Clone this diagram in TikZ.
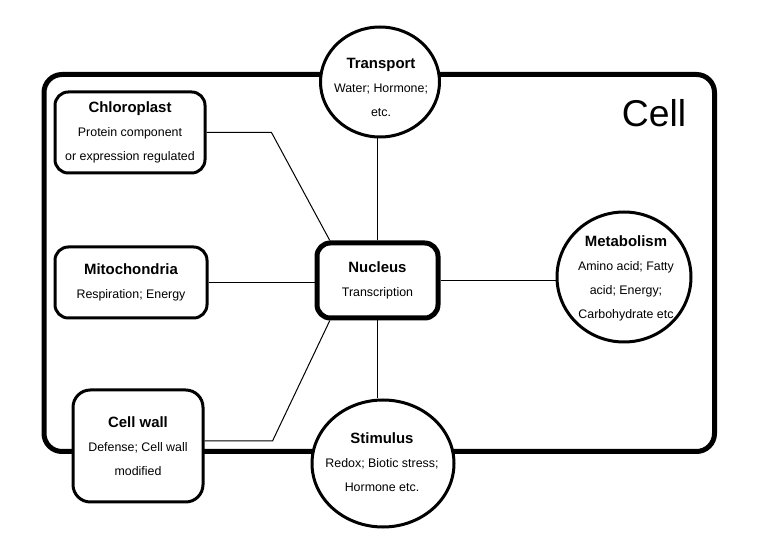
\documentclass[tikz,border=0pt]{standalone}
\usepackage{fontspec}
\setmainfont{Liberation Sans}
\usetikzlibrary{shapes.geometric}
\newcommand{\ttl}[1]{{\fontsize{11.2}{18}\selectfont\bfseries #1}}
\def\px{0.75pt}
\begin{document}
\begin{tikzpicture}[x=0.75pt,y=-0.75pt,
		organelle/.style={draw,fill=white,line width=2.25pt,rounded corners=10pt,align=center,font=\fontsize{9.3}{18}\selectfont},
		process/.style={draw,fill=white,ellipse,line width=2.25pt,inner sep=0pt},
		txt/.style={align=center,font=\fontsize{9.3}{18}\selectfont},
		link/.style={line width=0.75pt}]
		\useasboundingbox (0,0) rectangle (772,552);
		% cell boundary
		\draw[line width=3.75pt,rounded corners=13.5pt] (44,74.5) rectangle (714.5,451.5);
		\node[font=\fontsize{28}{30}\selectfont,anchor=base] (celllabel) at (654,127) {Cell};
		% organelles
		\node[organelle,minimum width=150*\px,minimum height=81*\px] (chloro) at (130,132.5) {\ttl{Chloroplast}\\Protein component\\or expression regulated};
		\node[organelle,minimum width=152*\px,minimum height=71*\px] (mito) at (131,282.5) {\ttl{Mitochondria}\\Respiration; Energy};
		\node[organelle,rounded corners=13pt,minimum width=130*\px,minimum height=112*\px] (wall) at (138,446) {\ttl{Cell wall}\\Defense; Cell wall\\modified};
		\node[organelle,line width=3.75pt,minimum width=121*\px,minimum height=75*\px] (nucleus) at (377.5,280.5) {\ttl{Nucleus}\\Transcription};
		% processes
		\node[process,minimum width=119*\px,minimum height=110*\px] (transport) at (380,82) {};
		\node[txt] (transport-t) at (381,87) {\ttl{Transport}\\Water; Hormone;\\etc.};
		\node[process,minimum width=134*\px,minimum height=130*\px] (metab) at (624,277) {};
		\node[txt] (metab-t) at (626,278) {\ttl{Metabolism}\\Amino acid; Fatty\\acid; Energy;\\Carbohydrate etc};
		\node[process,minimum width=142*\px,minimum height=127*\px] (stimulus) at (383,463.5) {};
		\node[txt] (stimulus-t) at (382,462) {\ttl{Stimulus}\\Redox; Biotic stress;\\Hormone etc.};
		% links to the nucleus
		\draw[link] (chloro.east) -- ++(65,0) -- (nucleus.140);
		\draw[link] ([yshift=3.75pt]wall.east) -- ++(68,0) -- (nucleus.220);
		\draw[link] (mito.east) -- (mito.east -| nucleus.west);
		\draw[link] (nucleus.east) -- (nucleus.east -| metab.west);
		\draw[link] (nucleus.north) -- (nucleus.north |- transport.south);
		\draw[link] (nucleus.south) -- (nucleus.south |- stimulus.north);
	\end{tikzpicture}
\end{document}
